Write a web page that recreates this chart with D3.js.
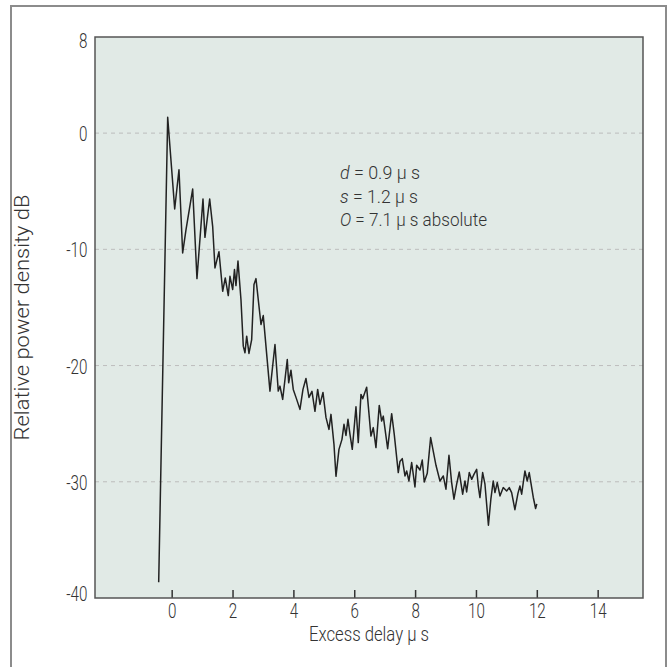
<!DOCTYPE html>
<html>
<head>
<meta charset="utf-8">
<script src="https://cdn.jsdelivr.net/npm/d3@7/dist/d3.min.js"></script>
<style>
  html, body { margin: 0; padding: 0; background: #ffffff; }
  svg { display: block; }
  text { font-family: Roboto, "Liberation Sans", sans-serif; font-weight: 300; fill: #333; }
</style>
</head>
<body>
<svg id="chart" width="672" height="667"></svg>
<script>
// Power delay profile: excess delay (µs) vs relative power density (dB)
const delayUs = [
  -0.427, -0.131, 0.099, 0.240, 0.361, 0.470, 0.690, 0.831, 1.029, 1.094,
  1.249, 1.347, 1.423, 1.554, 1.676, 1.761, 1.860, 1.916, 2.005, 2.064,
  2.113, 2.179, 2.277, 2.353, 2.409, 2.465, 2.540, 2.629, 2.705, 2.770,
  2.935, 3.010, 3.230, 3.395, 3.503, 3.559, 3.648, 3.799, 3.845, 3.920,
  3.996, 4.108, 4.216, 4.315, 4.413, 4.512, 4.611, 4.709, 4.798, 4.874,
  4.972, 5.071, 5.169, 5.235, 5.334, 5.400, 5.498, 5.597, 5.663, 5.728,
  5.794, 5.860, 5.935, 6.057, 6.132, 6.221, 6.277, 6.408, 6.549, 6.625,
  6.714, 6.822, 6.901, 6.954, 7.098, 7.230, 7.315, 7.447, 7.502, 7.578,
  7.667, 7.723, 7.798, 7.887, 7.940, 7.995, 8.051, 8.160, 8.235, 8.301,
  8.400, 8.511, 8.686, 8.817, 8.926, 9.014, 9.113, 9.201, 9.277, 9.366,
  9.451, 9.563, 9.639, 9.694, 9.780, 9.859, 9.934, 10.023, 10.076, 10.131,
  10.220, 10.296, 10.410, 10.490, 10.568, 10.624, 10.700, 10.789, 10.897, 11.009,
  11.094, 11.173, 11.280, 11.380, 11.445, 11.502, 11.610, 11.685, 11.751, 11.883,
  11.960, 12.000
];
const powerDb = [
  -38.65, 1.37, -6.53, -3.15, -10.31, -8.32, -4.81, -12.52, -5.67, -8.97,
  -5.67, -8.02, -11.60, -10.20, -13.61, -12.46, -13.98, -12.32, -13.46, -11.74,
  -13.12, -11.01, -14.32, -18.33, -18.90, -17.47, -18.96, -17.76, -13.03, -12.52,
  -16.47, -15.70, -22.20, -18.19, -22.20, -21.77, -22.91, -19.48, -21.48, -20.40,
  -22.05, -22.91, -23.77, -22.05, -21.11, -22.74, -22.22, -23.94, -22.05, -23.34,
  -22.31, -24.46, -25.49, -24.20, -26.78, -29.53, -27.21, -26.35, -25.06, -26.01,
  -24.63, -25.92, -27.21, -23.54, -26.63, -22.48, -22.85, -21.86, -26.07, -25.34,
  -27.06, -23.43, -24.78, -24.35, -27.15, -24.14, -25.92, -29.21, -28.26, -28.01,
  -29.50, -29.07, -29.93, -28.35, -29.36, -30.45, -28.58, -28.99, -28.13, -30.02,
  -29.27, -26.20, -28.58, -29.93, -29.50, -30.64, -27.72, -30.07, -31.50, -30.21,
  -29.16, -31.07, -29.93, -30.88, -29.21, -29.79, -29.36, -28.93, -30.36, -31.36,
  -29.21, -30.21, -33.73, -31.50, -29.93, -30.93, -30.07, -31.22, -30.50, -30.79,
  -30.50, -30.93, -32.40, -31.00, -30.36, -31.07, -29.07, -29.93, -29.21, -31.33,
  -32.30, -31.90
];
const xTicks = [0, 2, 4, 6, 8, 10, 12, 14];
const yTicks = [8, 0, -10, -20, -30, -40];
const yGrid = [0, -10, -20, -30];
const notes = [
  { sym: "d", rest: " = 0.9 µ s", width: 80 },
  { sym: "s", rest: " = 1.2 µ s", width: 78 },
  { sym: "O", rest: " = 7.1 µ s absolute", width: 147 }
];

const svg = d3.select("#chart");
const plot = { left: 95, right: 643, top: 37, bottom: 598 };
const squeeze = 0.76;   // condensed look for the tick numerals

const x = d3.scaleLinear().domain([-2.52, 15.49]).range([plot.left, plot.right]);
const y = d3.scaleLinear().domain([-40, 8.27]).range([plot.bottom, plot.top]);

// outer frame
svg.append("rect")
  .attr("x", 11).attr("y", 6).attr("width", 655).attr("height", 672)
  .attr("fill", "none").attr("stroke", "#8c8c8c").attr("stroke-width", 2);

// plotting area
svg.append("rect")
  .attr("x", plot.left).attr("y", plot.top)
  .attr("width", plot.right - plot.left).attr("height", plot.bottom - plot.top)
  .attr("fill", "#e1eae6");

// dashed grid
svg.append("g").selectAll("line").data(yGrid).join("line")
  .attr("x1", plot.left).attr("x2", plot.right)
  .attr("y1", d => y(d)).attr("y2", d => y(d))
  .attr("stroke", "#bdbdbd").attr("stroke-width", 1).attr("stroke-dasharray", "4,4");

// x axis ticks (inward) and labels
const xAxis = d3.axisBottom(x).tickValues(xTicks).tickSize(-8).tickPadding(6)
  .tickSizeOuter(0).tickFormat(d => String(d));
const gx = svg.append("g").attr("transform", `translate(0,${plot.bottom})`).call(xAxis);
gx.select(".domain").remove();
gx.selectAll(".tick line").attr("stroke", "#333").attr("stroke-width", 1.5);
gx.selectAll(".tick text").attr("font-size", 20)
  .style("font-family", "Roboto, sans-serif").style("font-weight", 300).attr("fill", "#333")
  .attr("transform", `scale(${squeeze},1)`);

// y axis labels only
const yAxis = d3.axisLeft(y).tickValues(yTicks).tickSize(0).tickPadding(10)
  .tickFormat(d => String(d));
const gy = svg.append("g").attr("transform", `translate(${plot.left},0)`).call(yAxis);
gy.select(".domain").remove();
gy.selectAll(".tick text").attr("font-size", 20)
  .style("font-family", "Roboto, sans-serif").style("font-weight", 300).attr("fill", "#333")
  .attr("dy", d => d === -40 ? "0.12em" : "0.38em")
  .attr("transform", `scale(${squeeze},1)`);

// plot border
svg.append("rect")
  .attr("x", plot.left).attr("y", plot.top)
  .attr("width", plot.right - plot.left).attr("height", plot.bottom - plot.top)
  .attr("fill", "none").attr("stroke", "#555").attr("stroke-width", 1.5);

// profile trace
const pts = delayUs.map((d, i) => [d, powerDb[i]]);
svg.append("path")
  .datum(pts)
  .attr("fill", "none").attr("stroke", "#222").attr("stroke-width", 1.5)
  .attr("stroke-linejoin", "round")
  .attr("d", d3.line().x(d => x(d[0])).y(d => y(d[1])));

// annotation block
const note = svg.append("g");
notes.forEach((n, i) => {
  const t = note.append("text").attr("x", 340).attr("y", 179 + i * 23.5).attr("font-size", 18)
    .attr("textLength", n.width).attr("lengthAdjust", "spacingAndGlyphs");
  t.append("tspan").attr("font-style", "italic").text(n.sym);
  t.append("tspan").text(n.rest);
});

// axis titles
svg.append("text")
  .attr("x", (plot.left + plot.right) / 2).attr("y", 641)
  .attr("text-anchor", "middle").attr("font-size", 20)
  .attr("textLength", 120).attr("lengthAdjust", "spacingAndGlyphs")
  .text("Excess delay µ s");

svg.append("text")
  .attr("transform", `translate(29,${(plot.top + plot.bottom) / 2}) rotate(-90)`)
  .attr("text-anchor", "middle").attr("font-size", 20)
  .attr("textLength", 246).attr("lengthAdjust", "spacingAndGlyphs")
  .text("Relative power density dB");
</script>
</body>
</html>
